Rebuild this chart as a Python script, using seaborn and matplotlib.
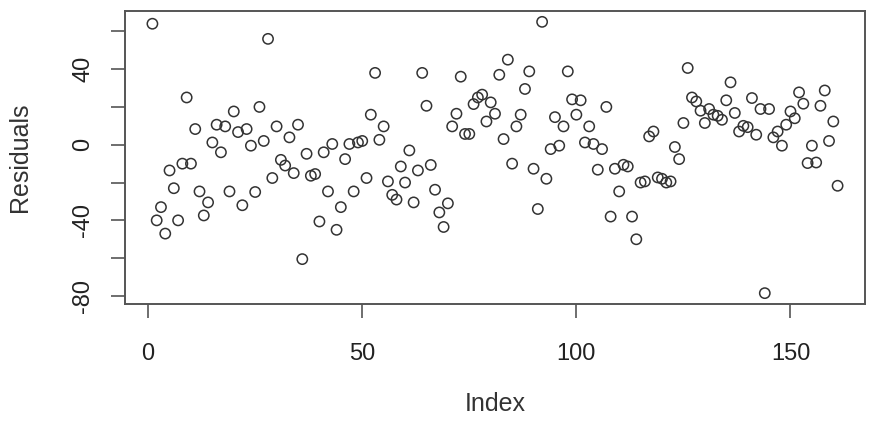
import numpy as np
import pandas as pd
import seaborn as sns
import matplotlib.pyplot as plt

# residuos, na ordem do indice
residuals = [64, -40, -33, -47, -13.6, -23, -40, -10, 25, -10, 8.3, -24.7, -37.4,
             -30.5, 1.2, 10.6, -4, 9.7, -24.7, 17.6, 6.7, -32, 8.3, -0.5, -25, 20,
             2, 56, -17.6, 9.7, -8, -11, 3.9, -15, 10.6, -60.5, -4.8, -16.4, -15.5,
             -40.6, -4, -24.7, 0.4, -45, -33, -7.6, 0.4, -24.7, 1.2, 2, -17.6, 15.9,
             38, 2.6, 9.7,
             -19.4, -26.5, -29, -11.5, -20, -3, -30.5, -13.6, 38, 20.6, -10.7, -23.8,
             -35.8, -43.5, -31, 9.7, 16.4, 36, 5.7, 5.7, 21.5, 25, 26.5, 12.3, 22.4,
             16.4, 37,
             3, 45, -10, 9.7, 15.9, 29.5, 38.8, -12.7, -34, 65, -18, -2.3, 14.6, -0.5,
             9.7, 38.8, 24, 15.9, 23.5, 1.2, 9.7, 0.4, -13.2, -2.3, 20, -38, -12.7,
             -24.7,
             -10.6, -11.5, -38, -50, -20, -19.4, 4.4, 7, -17.3, -18, -20, -19.4, -1.2,
             -7.6, 11.5, 40.6, 25, 22.9, 18, 11.5, 18.9, 15.9, 15.3, 13.2, 23.5, 33,
             16.8, 7,
             10, 9.3, 24.7, 5.3, 18.9, -78.5, 18.9, 3.9, 7, -0.5, 10.6, 17.6, 14, 27.7,
             21.7, -9.7, -0.5, -9.4, 20.6, 28.7, 2, 12.3, -21.7]
index = list(range(1, len(residuals) + 1))

x_ticks = [0, 50, 100, 150]
y_ticks = [-80, -60, -40, -20, 0, 20, 40, 60]
y_tick_labels = ['-80', '', '-40', '', '0', '', '40', '']

df = pd.DataFrame({'Index': index, 'Residuals': residuals})

sns.set_style('white')
plt.rcParams['font.family'] = ['Liberation Sans Narrow', 'Liberation Sans', 'DejaVu Sans']

fig = plt.figure(figsize=(8.76, 4.24), dpi=100)
ax = fig.add_axes([125/876, 1 - 304/424, 740/876, 293/424])

sns.scatterplot(data=df, x='Index', y='Residuals', ax=ax, marker='o',
                facecolor='none', edgecolor='#333333', linewidth=1.1, s=55)

# limites no estilo do R (4% de folga)
n = len(residuals)
pad_x = 0.04 * (n - 1)
ax.set_xlim(1 - pad_x, n + pad_x)
rmin, rmax = min(residuals), max(residuals)
pad_y = 0.04 * (rmax - rmin)
ax.set_ylim(rmin - pad_y, rmax + pad_y)

ax.set_xticks(x_ticks)
ax.set_xticklabels([str(t) for t in x_ticks], fontsize=17, color='#222222')
ax.set_yticks(y_ticks)
ax.set_yticklabels(y_tick_labels, fontsize=17, color='#222222', rotation=90, va='center')
ax.tick_params(axis='both', direction='out', length=10, width=1.2, color='#555555',
               left=True, bottom=True)
ax.tick_params(axis='x', pad=18)
ax.tick_params(axis='y', pad=12)

for sp in ax.spines.values():
    sp.set_color('#555555')
    sp.set_linewidth(1.4)

ax.set_xlabel('Index', fontsize=18, color='#333333')
ax.set_ylabel('Residuals', fontsize=18, color='#333333')
ax.xaxis.set_label_coords(0.5, -0.30)
ax.yaxis.set_label_coords(-0.125, 0.5)

fig.savefig('out.png', dpi=100)
